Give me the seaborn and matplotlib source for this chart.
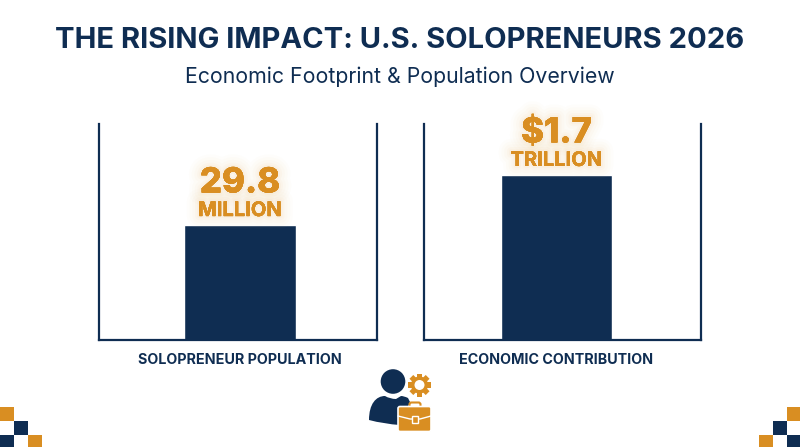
import matplotlib
matplotlib.use("Agg")
import matplotlib.pyplot as plt
import matplotlib.patheffects as pe
from matplotlib.patches import Rectangle, Circle, FancyBboxPatch, PathPatch
from matplotlib.path import Path
from matplotlib.transforms import Affine2D
import pandas as pd
import seaborn as sns

title = "THE RISING IMPACT: U.S. SOLOPRENEURS 2026"
subtitle = "Economic Footprint & Population Overview"
categories = ["SOLOPRENEUR POPULATION", "ECONOMIC CONTRIBUTION"]
values = [29.8, 1.7]
value_labels = ["29.8", "$1.7"]
unit_labels = ["MILLION", "TRILLION"]
y_tops = [56.0, 2.225]
x_lefts = [-0.507, -0.478]

NAVY = "#0f2d52"
GOLD = "#d98e22"
W, H = 800, 447

sns.set_theme(style="white")
plt.rcParams["font.family"] = ["Inter", "DejaVu Sans"]
fig = plt.figure(figsize=(W / 100, H / 100), dpi=100, facecolor="white")

def box(x0, y0, x1, y1):
    return [x0 / W, 1 - y1 / H, (x1 - x0) / W, (y1 - y0) / H]

glow = [pe.withStroke(linewidth=w, foreground="#f6c27a", alpha=a)
        for w, a in [(18, .025), (14, .03), (10, .04), (6, .06), (3, .08)]] + [pe.Normal()]

boxes = [box(99, 124, 377, 340), box(424, 124, 701, 340)]
for i, b in enumerate(boxes):
    ax = fig.add_axes(b, facecolor="none")
    df = pd.DataFrame({"c": [categories[i]], "v": [values[i]]})
    sns.barplot(data=df, x="c", y="v", color=NAVY, saturation=1, width=0.403, ax=ax)
    ax.set_xlim(x_lefts[i], x_lefts[i] + 1)
    ax.set_ylim(0, y_tops[i])
    ax.set_xlabel("")
    ax.set_ylabel("")
    ax.set_yticks([])
    ax.set_xticks([0])
    ax.set_xticklabels([categories[i]], fontsize=10.3, fontweight="bold", color=NAVY)
    ax.tick_params(axis="x", length=0, pad=9)
    for s in ["left", "right", "bottom"]:
        ax.spines[s].set_color(NAVY)
        ax.spines[s].set_linewidth(1.6)
    ax.spines["top"].set_visible(False)
    ax.annotate(unit_labels[i], (0, values[i]), xytext=(0, 3.6), textcoords="offset points",
                ha="center", va="bottom", fontsize=14.5, fontweight="bold", color=GOLD,
                path_effects=glow, annotation_clip=False)
    ax.annotate(value_labels[i], (0, values[i]), xytext=(0, 18.4), textcoords="offset points",
                ha="center", va="bottom", fontsize=25, fontweight="heavy", color=GOLD,
                path_effects=glow, annotation_clip=False)

fig.text(0.5, 1 - 41 / H, title, ha="center", va="center", fontsize=21, fontweight="bold", color=NAVY)
fig.text(0.5, 1 - 77 / H, subtitle, ha="center", va="center", fontsize=15.3, color=NAVY)

# Decorative overlay in pixel coordinates
deco = fig.add_axes([0, 0, 1, 1], facecolor="none", zorder=5)
deco.set_xlim(0, W)
deco.set_ylim(H, 0)
deco.axis("off")
for x, y, c in [(0, 407, GOLD), (14, 421, NAVY), (0, 435, NAVY), (28, 435, GOLD),
                (787, 407, GOLD), (773, 421, NAVY), (759, 435, GOLD), (787, 435, NAVY)]:
    deco.add_patch(Rectangle((x, y), 13.5, 13.5, fc=c, ec="none"))

# Person
deco.add_patch(Circle((393, 381.5), 12.3, fc=NAVY, ec="none"))
body = Path([(369, 420), (369, 404), (376, 396), (385, 396), (390, 399), (396, 399), (401, 396),
             (404, 396), (408, 398), (410, 402), (400, 425), (384, 424), (369, 420), (369, 420)],
            [Path.MOVETO, Path.CURVE4, Path.CURVE4, Path.CURVE4, Path.CURVE3, Path.CURVE3, Path.LINETO,
             Path.CURVE3, Path.CURVE3, Path.LINETO, Path.LINETO, Path.CURVE3, Path.CURVE3, Path.CLOSEPOLY])
deco.add_patch(PathPatch(body, fc=NAVY, ec="none"))
# Gear
deco.add_patch(Circle((419.5, 385), 8.6, fc=GOLD, ec="none"))
for k in range(8):
    deco.add_patch(Rectangle((416.8, 373.5), 5.4, 6, fc=GOLD, ec="none",
                             transform=Affine2D().rotate_deg_around(419.5, 385, 45 * k) + deco.transData))
deco.add_patch(Circle((419.5, 385), 5, fc="white", ec="none"))
# Briefcase
deco.add_patch(FancyBboxPatch((409.5, 402.5), 11, 7, boxstyle="round,pad=0,rounding_size=2", fc="none", ec=GOLD, lw=1.5, zorder=3))
deco.add_patch(FancyBboxPatch((398, 406.5), 33, 25, boxstyle="round,pad=0,rounding_size=2", fc=GOLD, ec="white", lw=1.2, zorder=4))
deco.plot([398, 410, 420, 431], [416, 419, 419, 416], color="white", lw=1, zorder=5)
deco.add_patch(Rectangle((411.5, 416), 6, 6.5, fc=GOLD, ec="white", lw=1, zorder=6))

fig.savefig("out.png", dpi=100, facecolor="white")
